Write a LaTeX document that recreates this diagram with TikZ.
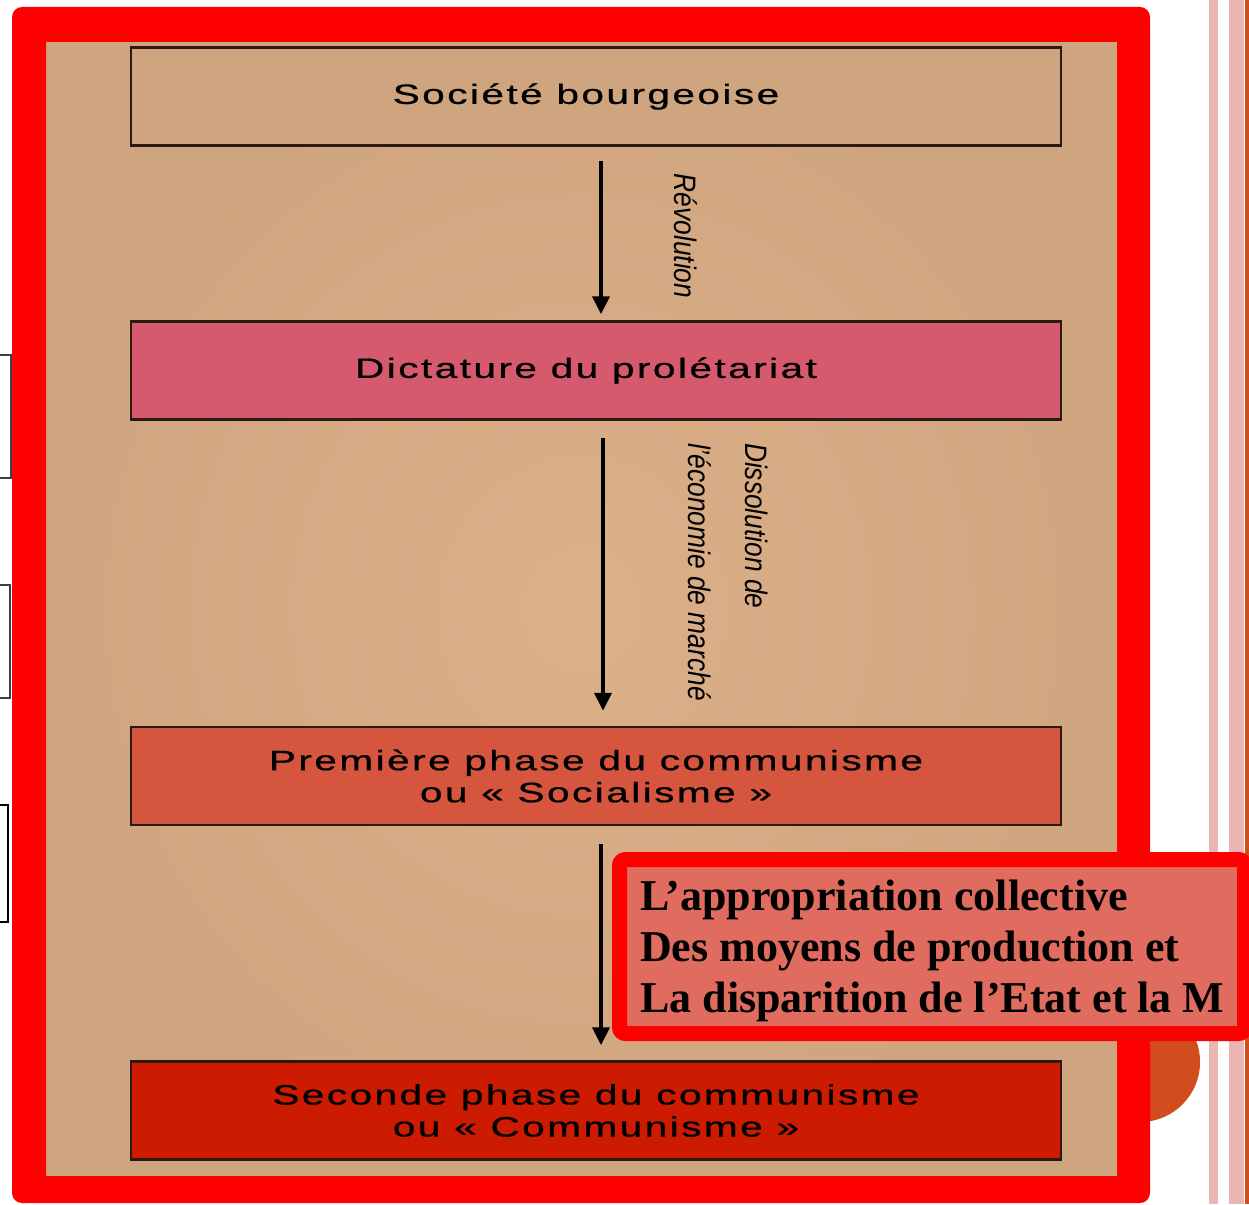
\documentclass[tikz,border=0pt]{standalone}
\usepackage{fontspec}
\usepackage{graphicx}
\setmainfont{Liberation Sans}
\newfontfamily\boxfont[LetterSpace=6,FakeBold=0.6]{Liberation Sans}
\newfontfamily\labfont{Liberation Sans}
\newfontfamily\tbfont{Liberation Serif}
\usetikzlibrary{arrows.meta}
\newcommand\widetxt[1]{\scalebox{1.45}[1]{#1}}
\newcommand\narrowtxt[1]{\scalebox{0.85}[1]{#1}}
\definecolor{bgtan}{HTML}{CFA57F}
\definecolor{bgtanin}{HTML}{DCB089}
\definecolor{frred}{HTML}{FF0000}
\definecolor{boxline}{HTML}{2A1A12}
\definecolor{pinkbox}{HTML}{D55A6D}
\definecolor{orbox}{HTML}{D5553F}
\definecolor{redbox}{HTML}{CC1B00}
\definecolor{salmon}{HTML}{E06C60}
\definecolor{stripe}{HTML}{EBB6B1}
\definecolor{orng}{HTML}{D24C1E}
\tikzset{
  stagebox/.style={draw=boxline, line width=2.5pt, minimum width=930pt, minimum height=98pt,
    inner sep=0pt, font=\boxfont\fontsize{28}{32}\selectfont, align=center},
  arr/.style={-{Triangle[width=17pt,length=18pt]}, line width=4pt, draw=black},
  lab/.style={rotate=-90, font=\labfont\itshape\fontsize{31}{57}\selectfont, align=left, inner sep=0pt},
  brk/.style={draw=black!75, line width=2pt}
}
\begin{document}
\begin{tikzpicture}[x=1pt,y=-1pt]
\useasboundingbox (0,0) rectangle (1249,1204);
\clip (0,0) rectangle (1249,1204);
\fill[white] (0,0) rectangle (1249,1204);
% right stripes
\fill[stripe] (1209,0) rectangle (1218,1204);
\fill[stripe] (1229,0) rectangle (1244,1204);
\fill[orng] (1244.5,0) rectangle (1249,1204);
% orange circle
\fill[orng] (1140,1062) circle (60);
% tan background
\shade[inner color=bgtanin, outer color=bgtan] (46,42) rectangle (1117,1176);
% red frame
\fill[frred, even odd rule, rounded corners=10pt] (12,7) rectangle (1150,1203)
  [sharp corners] (46,42) rectangle (1117,1176);
% boxes
\node[stagebox, fill=bgtan] (b1) at (596,96.5) {\widetxt{Société bourgeoise}\hspace*{20pt}};
\node[stagebox, fill=pinkbox] (b2) at (596,370.5) {\widetxt{Dictature du prolétariat}\hspace*{20pt}};
\node[stagebox, fill=orbox] (b3) at (596,776) {\widetxt{Première phase du communisme}\\\widetxt{ou « Socialisme »}};
\node[stagebox, fill=redbox] (b4) at (596,1110.5) {\widetxt{Seconde phase du communisme}\\\widetxt{ou « Communisme »}};
% arrows
\draw[arr, shorten <=14pt, shorten >=6pt] ([xshift=5pt]b1.south) -- ([xshift=5pt]b2.north);
\draw[arr, shorten <=17pt, shorten >=15pt] ([xshift=7pt]b2.south) -- ([xshift=7pt]b3.north);
\draw[arr, shorten <=18pt, shorten >=15pt] ([xshift=5pt]b3.south) -- ([xshift=5pt]b4.north);
% labels
\node[lab] (l1) at (686,236) {\narrowtxt{Révolution}};
\node[lab] (l2) at (728,572) {\narrowtxt{Dissolution de}\\\narrowtxt{l’économie de marché}};
% text box
\node[draw=frred, fill=salmon, line width=15pt, rounded corners=6pt, minimum width=625pt,
  minimum height=174pt, inner sep=0pt] (tb) at (932,946.5) {};
\node[anchor=west, align=left, inner sep=0pt, font=\tbfont\bfseries\fontsize{44}{51}\selectfont]
  (tbt) at (640,951) {L’appropriation collective\\Des moyens de production et\\La disparition de l’Etat et la M};
% left bracket fragments
\draw[brk] (0,355) -- (11,355) -- (11,478) -- (0,478);
\draw[brk] (0,585) -- (10,585) -- (10,698) -- (0,698);
\draw[brk, draw=black, line width=2.5pt] (0,805) -- (8,805) -- (8,922) -- (0,922);
\end{tikzpicture}
\end{document}
